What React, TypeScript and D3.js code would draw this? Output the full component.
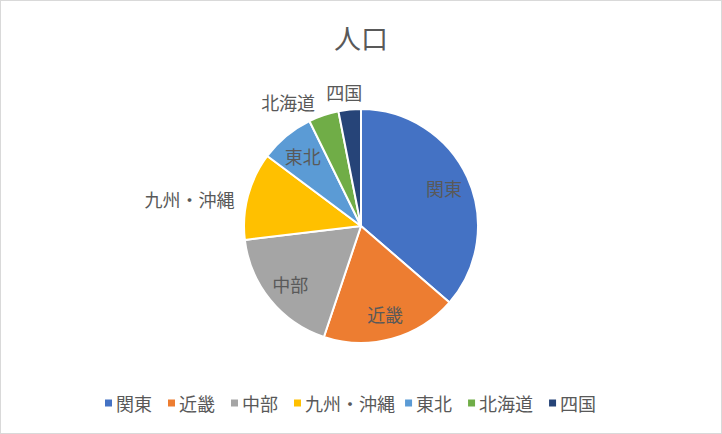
import * as d3 from 'd3';
import { useEffect, useRef } from 'react';

// 地方別人口 (万人)
const regions = ['関東', '近畿', '中部', '九州・沖縄', '東北', '北海道', '四国'];
const population = [4350, 2250, 2150, 1450, 900, 500, 370];
const colors = ['#4472c4', '#ed7d31', '#a5a5a5', '#ffc000', '#5b9bd5', '#70ad47', '#264478'];
// labels that Excel put outside the pie, with a small nudge [dx, dy]
const outsideLabels: Record<string, [number, number]> = {
  '九州・沖縄': [0, 7],
  北海道: [-4, 0],
  四国: [-4, -4],
};

const title = '人口';

type Datum = { name: string; value: number; color: string };

export default function App() {
  const ref = useRef<SVGSVGElement>(null);

  useEffect(() => {
    if (!ref.current) return;
    const width = 722,
      height = 434;
    const svg = d3.select(ref.current);
    svg.selectAll('*').remove();

    const font = '"Noto Sans CJK JP", "Noto Sans", sans-serif';
    const textColor = '#595959';

    svg
      .append('rect')
      .attr('x', 0.5)
      .attr('y', 0.5)
      .attr('width', width - 1)
      .attr('height', height - 1)
      .attr('fill', '#ffffff')
      .attr('stroke', '#d9d9d9');

    // title
    svg
      .append('text')
      .text(title)
      .attr('x', width / 2)
      .attr('y', 49)
      .attr('text-anchor', 'middle')
      .attr('font-family', font)
      .attr('font-size', 27)
      .attr('fill', textColor);

    const data: Datum[] = regions.map((name, i) => ({ name, value: population[i], color: colors[i] }));
    const cx = 361,
      cy = 226,
      r = 117;

    const pie = d3
      .pie<Datum>()
      .value((d) => d.value)
      .sort(null);
    const arcs = pie(data);
    const arc = d3.arc<d3.PieArcDatum<Datum>>().innerRadius(0).outerRadius(r);

    const g = svg.append('g').attr('transform', `translate(${cx},${cy})`);
    g.selectAll('path')
      .data(arcs)
      .join('path')
      .attr('d', arc)
      .attr('fill', (d) => d.data.color)
      .attr('stroke', '#ffffff')
      .attr('stroke-width', 2)
      .attr('stroke-linejoin', 'round');

    // data labels
    const inner = d3
      .arc<d3.PieArcDatum<Datum>>()
      .innerRadius(r * 0.78)
      .outerRadius(r * 0.78);
    g.selectAll('text.lbl')
      .data(arcs)
      .join('text')
      .attr('class', 'lbl')
      .text((d) => d.data.name)
      .each(function (d) {
        const sel = d3.select(this);
        const mid = (d.startAngle + d.endAngle) / 2;
        const nudge = outsideLabels[d.data.name];
        if (nudge) {
          const rr = r + 14;
          const x = Math.sin(mid) * rr;
          const y = -Math.cos(mid) * rr;
          const anchor = Math.abs(Math.sin(mid)) < 0.15 ? 'middle' : x < 0 ? 'end' : 'start';
          sel
            .attr('x', x + nudge[0])
            .attr('y', y + nudge[1])
            .attr('text-anchor', anchor);
        } else {
          const [x, y] = inner.centroid(d);
          sel.attr('x', x).attr('y', y).attr('text-anchor', 'middle');
        }
      })
      .attr('dominant-baseline', 'central')
      .attr('font-family', font)
      .attr('font-size', 18)
      .attr('fill', textColor);

    // legend
    const em = 18;
    const gap = 16;
    // the middle dot is set narrower in the original legend
    const textW = (name: string) =>
      name.split('').reduce((s, c) => s + (c === '・' ? em * 0.67 : em), 0);
    const itemW = (name: string) => 11 + textW(name) + gap;
    let lx = 105;
    const legend = svg.append('g').attr('transform', `translate(0, 403)`);
    data.forEach((d) => {
      legend
        .append('rect')
        .attr('x', lx)
        .attr('y', -3.5)
        .attr('width', 7)
        .attr('height', 7)
        .attr('fill', d.color);
      legend
        .append('text')
        .text(d.name)
        .attr('x', lx + 11)
        .attr('y', 0)
        .attr('dominant-baseline', 'central')
        .attr('font-family', font)
        .attr('font-size', 18)
        .attr('fill', textColor);
      lx += itemW(d.name);
    });
  }, []);

  return (
    <svg
      ref={ref}
      width={722}
      height={434}
      style={{ position: 'fixed', left: 0, top: 0, display: 'block' }}
    ></svg>
  );
}
